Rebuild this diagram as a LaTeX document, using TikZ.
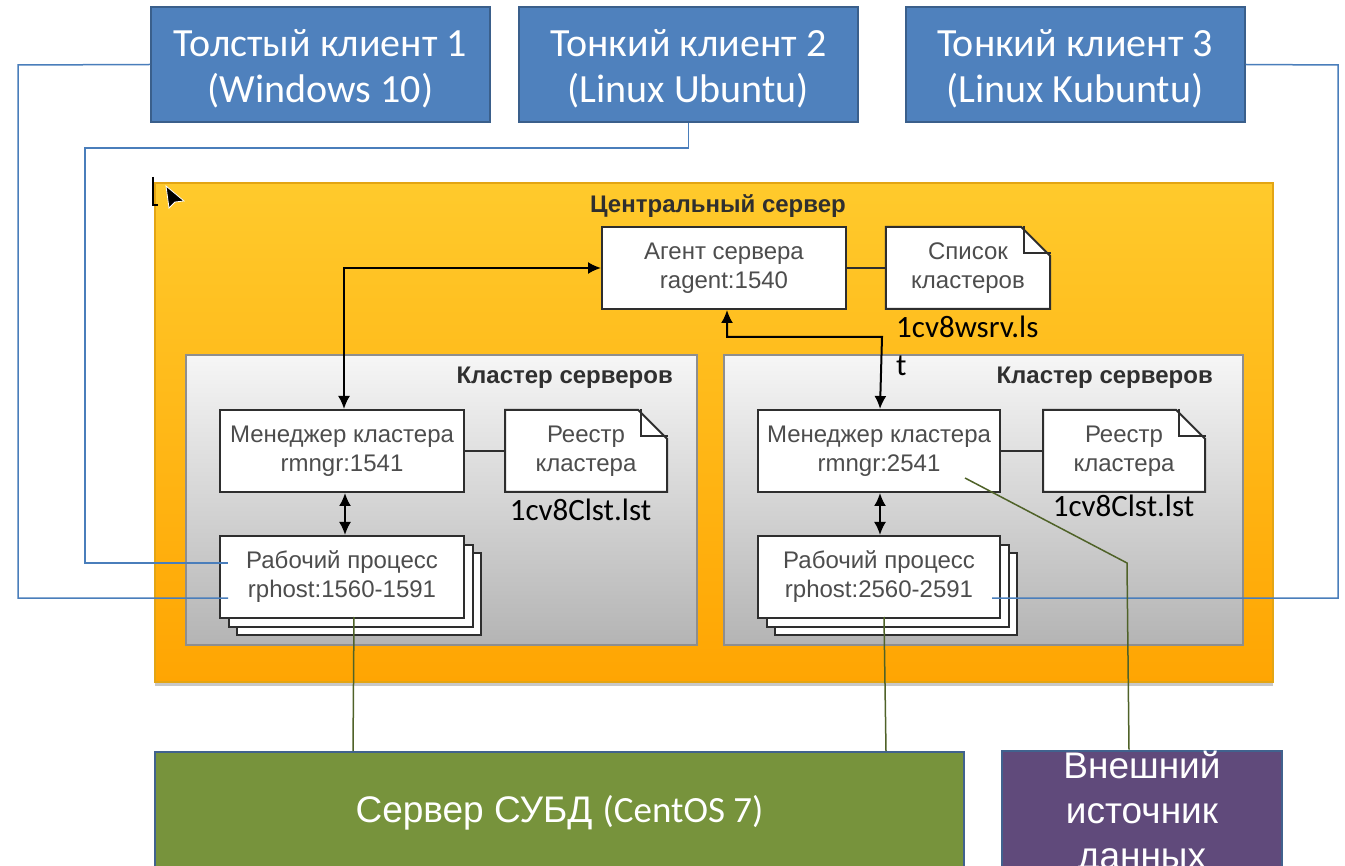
\documentclass[tikz,border=0pt]{standalone}
\usepackage{fontspec}
\setmainfont{Liberation Sans}
\newfontfamily\calibri{Carlito}
\usetikzlibrary{arrows.meta,shapes.misc,shadows,calc}

\definecolor{clientfill}{HTML}{4F81BD}
\definecolor{clientedge}{HTML}{3A5F8B}
\definecolor{wireblue}{HTML}{4A7EBB}
\definecolor{wiregreen}{HTML}{4F6228}
\definecolor{srvtop}{HTML}{FFCA2C}
\definecolor{srvbottom}{HTML}{FFA502}
\definecolor{srvedge}{HTML}{E3A514}
\definecolor{clustertop}{HTML}{F6F6F6}
\definecolor{clusterbottom}{HTML}{B4B4B4}
\definecolor{clusteredge}{HTML}{8E8E8E}
\definecolor{boxedge}{HTML}{2E2E2E}
\definecolor{boxtext}{HTML}{4D4D4D}
\definecolor{titletext}{HTML}{2F2F2F}
\definecolor{dbfill}{HTML}{77933C}
\definecolor{extfill}{HTML}{604A7B}
\definecolor{lowedge}{HTML}{41628E}

% folded corner of a document node
\newcommand\docfold[1]{%
  \draw[boxedge, line width=1.5pt]
    ($(#1.north -| #1.east)+(-27,0)$) -- ($(#1.north -| #1.east)+(-27,27)$)
    -- ($(#1.north -| #1.east)+(0,27)$);}
% client caption line, set a little lower than the box centre
\newcommand\clientline[1]{\raisebox{-4pt}[\height][\depth]{#1}}

\begin{document}
\begin{tikzpicture}[x=1pt,y=-1pt,
  client/.style={draw=clientedge, line width=2pt, fill=clientfill, text=white,
    font=\calibri\fontsize{40}{46}\selectfont, align=center,
    minimum width=339pt, minimum height=115pt, inner sep=0pt},
  server/.style={draw=srvedge, line width=1.5pt, top color=srvtop, bottom color=srvbottom,
    minimum width=1118pt, minimum height=499pt, inner sep=0pt,
    drop shadow={shadow xshift=0pt, shadow yshift=-4pt, opacity=.3, fill=black!70}},
  cluster/.style={draw=clusteredge, line width=2pt, top color=clustertop, bottom color=clusterbottom,
    minimum height=290pt, inner sep=0pt},
  title/.style={font=\bfseries\fontsize{24}{29}\selectfont, text=titletext, inner sep=0pt},
  unit/.style={draw=boxedge, line width=2pt, fill=white, text=boxtext,
    font=\fontsize{24}{29}\selectfont, align=center,
    minimum width=244pt, minimum height=82pt, inner sep=0pt},
  doc/.style={chamfered rectangle, chamfered rectangle corners=north east,
    chamfered rectangle xsep=27pt, chamfered rectangle angle=45,
    draw=boxedge, line width=2pt, fill=white, text=boxtext,
    font=\fontsize{24}{29}\selectfont, align=center,
    minimum width=162pt, minimum height=82pt, inner sep=0pt},
  filename/.style={font=\calibri\fontsize{31}{38}\selectfont, text=black, inner sep=0pt, align=left},
  link/.style={draw=boxedge, line width=1.8pt},
  twoway/.style={draw=black, line width=2pt,
    {Latex[length=13pt,width=12pt]}-{Latex[length=13pt,width=12pt]}},
  bluewire/.style={draw=wireblue, line width=1.5pt},
  greenwire/.style={draw=wiregreen, line width=1.5pt},
  lower/.style={draw=lowedge, line width=2pt, text=white, align=center,
    font=\fontsize{37}{45}\selectfont, minimum height=122pt, inner sep=0pt}
]
\clip (0,0) rectangle (1345,866);
\fill[white] (0,0) rectangle (1345,866);

% ---------- central server ----------
\node[server] (central) at (714,432.5) {};
\node[title] (centraltitle) at (718,206) {Центральный сервер};

\node[unit] (agent) at (724,268) {Агент сервера\\ragent:1540};
\node[doc] (list) at (968,268) {Список\\кластеров};
\docfold{list}
\draw[link] (agent.east) -- (list.west);

% ---------- cluster 1 ----------
\node[cluster, minimum width=511pt] (cl1) at (441.5,500) {};
\node[title, anchor=east] (cl1title) at (673,378) {Кластер серверов};
\node[unit] (m1) at (342,451) {Менеджер кластера\\rmngr:1541};
\node[doc] (reg1) at (586,451) {Реестр\\кластера};
\docfold{reg1}
\draw[link] (m1.east) -- (reg1.west);
\node[filename, anchor=base] (reg1file) at (580.5,521) {1cv8Clst.lst};
\node[unit] (w1c) at (359,594) {};
\node[unit] (w1b) at (350.5,585.5) {};
\node[unit] (w1) at (342,577) {Рабочий процесс\\rphost:1560-1591};
\draw[twoway] ([xshift=3pt]m1.south) -- ([xshift=3pt]w1.north);

% ---------- cluster 2 ----------
\node[cluster, minimum width=519pt] (cl2) at (983.5,500) {};
\node[title, anchor=east] (cl2title) at (1213,378) {Кластер серверов};
\node[unit, minimum width=242pt] (m2) at (879,451) {Менеджер кластера\\rmngr:2541};
\node[doc] (reg2) at (1124,451) {Реестр\\кластера};
\docfold{reg2}
\draw[link] (m2.east) -- (reg2.west);
\node[filename, anchor=base] (reg2file) at (1123.5,517) {1cv8Clst.lst};
\node[unit, minimum width=242pt] (w2c) at (896,594) {};
\node[unit, minimum width=242pt] (w2b) at (887.5,585.5) {};
\node[unit, minimum width=242pt] (w2) at (879,577) {Рабочий процесс\\rphost:2560-2591};
\draw[twoway] ([xshift=1pt]m2.south) -- ([xshift=1pt]w2.north);

% server list file name, wrapped over the cluster frame
\node[filename, anchor=north west] (listfile) at (896,316) {1cv8wsrv.ls\\t};

% agent <-> cluster managers
\coordinate (bend) at (879,337);
\draw[twoway] (agent.west) -| ([xshift=2pt]m1.north);
\draw[twoway] ([xshift=3pt]agent.south) |- ([xshift=3pt]bend) -- ([xshift=1pt]m2.north);

% ---------- clients ----------
\node[client] (c1) at (320.5,64.5) {\clientline{Толстый клиент 1}\\\clientline{(Windows 10)}};
\node[client] (c2) at (688.5,64.5) {\clientline{Тонкий клиент 2}\\\clientline{(Linux Ubuntu)}};
\node[client] (c3) at (1075,64.5) {\clientline{Тонкий клиент 3}\\\clientline{(Linux Kubuntu)}};

\coordinate (w1in1) at (228,563);
\coordinate (w1in2) at (228,598);
\coordinate (w2in) at (992,598);
\draw[bluewire] (c1.west) -- (18,65) |- (w1in2);
\draw[bluewire] (c2.south) |- (85,148) |- (w1in1);
\draw[bluewire] (c3.east) -- (1338,65) |- (w2in);

% ---------- lower tier ----------
\node[lower, fill=dbfill, minimum width=809pt] (db) at (559.5,813)
  {Сервер СУБД {\calibri(CentOS 7)}};
\node[lower, fill=extfill, minimum width=280pt] (ext) at (1142,813)
  {Внешний\\источник\\данных};

\coordinate (w1out) at (354,617);
\coordinate (w2out) at (884,617);
\coordinate (m2out) at (965,478);
\coordinate (extbend) at (1127,563);
\draw[greenwire] (w1out) -- ([xshift=-1pt]w1out |- db.north);
\draw[greenwire] (w2out) -- ([xshift=2pt]w2out |- db.north);
\draw[greenwire] (m2out) -- (extbend) -- ([xshift=2pt]extbend |- ext.north);

% ---------- text cursor and pointer ----------
\draw[black, line width=1.2pt] (153,177) -- (153,205) -- (158,205);
\filldraw[fill=black, draw=white, line width=.8pt]
  (166,186) -- (184,201) -- (175,202) -- (169,208) -- cycle;
\end{tikzpicture}
\end{document}
